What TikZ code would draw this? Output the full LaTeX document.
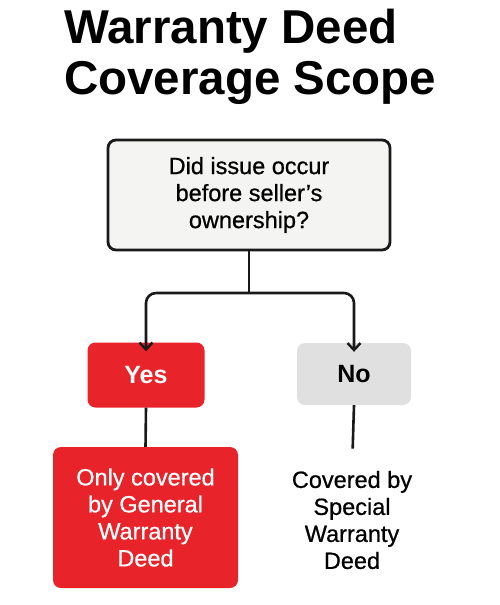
\documentclass[tikz,border=0pt]{standalone}
\usepackage{fontspec}
\setmainfont{Liberation Sans}
\newfontfamily\medsans[FakeBold=0.7]{Liberation Sans}
\usetikzlibrary{arrows.meta}
\definecolor{redbox}{HTML}{E8232A}
\definecolor{greybox}{HTML}{E0E0E0}
\definecolor{topfill}{HTML}{F4F4F2}
\begin{document}
\begin{tikzpicture}[x=1pt,y=-1pt,
  boxbase/.style={rounded corners=8pt, align=center, inner sep=0pt},
  conn/.style={line width=2.6pt, draw=black!90},
  arr/.style={conn, -{Straight Barb[length=7pt,width=13pt,line width=2.4pt]}},
  body/.style={font=\medsans\fontsize{23.5}{27}\selectfont},
]
\useasboundingbox (0,0) rectangle (500,605);
\node[font=\fontsize{47.5}{51}\selectfont\bfseries, align=left, anchor=west, inner sep=0pt] (title) at (64,57) {Warranty Deed\\Coverage Scope};
\node[boxbase, draw=black!90, line width=2.8pt, fill=topfill, minimum width=282pt, minimum height=110pt, body] (q) at (249,195) {Did issue occur\\before seller’s\\ownership?};
\node[boxbase, fill=redbox, minimum width=117pt, minimum height=65pt, text=white, font=\fontsize{25}{28}\selectfont\bfseries] (yes) at (146,375) {Yes};
\node[boxbase, fill=greybox, minimum width=114pt, minimum height=62pt, font=\fontsize{25}{28}\selectfont\bfseries] (no) at (354,374) {No};
\node[boxbase, fill=redbox, minimum width=185pt, minimum height=141pt, text=white, body] (gen) at (145.5,517.5) {Only covered\\by General\\Warranty\\Deed};
\node[body, align=center, inner sep=0pt] (spec) at (352,520) {Covered by\\Special\\Warranty\\Deed};
\coordinate (split) at (249,293);
\draw[conn] (q.south) -- (split);
\draw[arr, rounded corners=10pt] (split) -| ([yshift=-9pt]yes.north);
\draw[arr, rounded corners=10pt] (split) -| ([yshift=-9pt]no.north);
\draw[conn] (yes.south) -- (gen.north);
\draw[conn, shorten >=22pt] (no.south) -- (spec.north);
\end{tikzpicture}
\end{document}
